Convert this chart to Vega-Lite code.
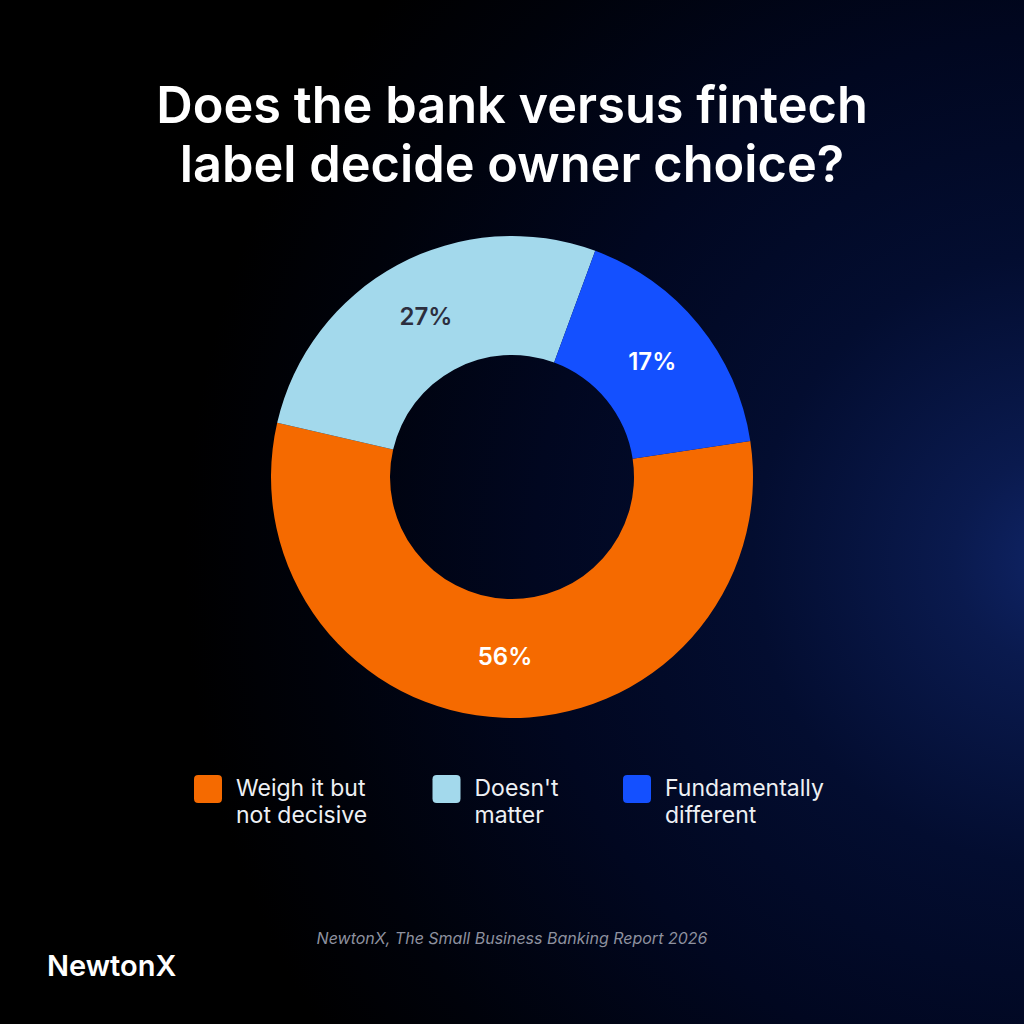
{
  "$schema": "https://vega.github.io/schema/vega-lite/v6.json",
  "width": 1024,
  "height": 1094,
  "autosize": {"type": "none"},
  "padding": {"left": 0, "top": -70, "right": 0, "bottom": 0},
  "background": "#000000",
  "view": {
    "stroke": null,
    "fill": {
      "gradient": "radial",
      "x1": 1.0, "y1": 0.576, "r1": 0,
      "x2": 1.0, "y2": 0.576, "r2": 0.8,
      "stops": [
        {"offset": 0, "color": "#0f2466"},
        {"offset": 0.12, "color": "#0a1a4e"},
        {"offset": 0.35, "color": "#030d30"},
        {"offset": 0.6, "color": "#010720"},
        {"offset": 0.85, "color": "#00020a"},
        {"offset": 1, "color": "#000000"}
      ]
    }
  },
  "title": {
    "text": ["Does the bank versus fintech", "label decide owner choice?"],
    "subtitle": "NewtonX, The Small Business Banking Report 2026",
    "anchor": "middle",
    "frame": "group",
    "orient": "top",
    "font": "Inter",
    "fontSize": 50.5,
    "fontWeight": 600,
    "color": "#ffffff",
    "lineHeight": 59,
    "subtitleFont": "Inter",
    "subtitleFontSize": 16,
    "subtitleFontStyle": "italic",
    "subtitleColor": "#8e919f",
    "subtitlePadding": 739,
    "offset": -1017
  },
  "data": {
    "values": [
      {"category": "Weigh it but not decisive", "value": 0.56},
      {"category": "Doesn't matter", "value": 0.27},
      {"category": "Fundamentally different", "value": 0.17}
    ]
  },
  "encoding": {
    "theta": {
      "field": "value",
      "type": "quantitative",
      "stack": true,
      "scale": {"range": [1.4207, 7.7039]}
    },
    "order": {"field": "value", "sort": "descending"}
  },
  "layer": [
    {
      "mark": {"type": "arc", "innerRadius": 122, "outerRadius": 241, "strokeWidth": 0},
      "encoding": {
        "color": {
          "field": "category",
          "type": "nominal",
          "scale": {
            "domain": ["Weigh it but not decisive", "Doesn't matter", "Fundamentally different"],
            "range": ["#F56A00", "#A3D9EC", "#1450FF"]
          },
          "legend": {
            "orient": "none",
            "legendX": 47,
            "legendY": 845,
            "direction": "horizontal",
            "columns": 3,
            "padding": 0,
            "title": ["\u00a0", "NewtonX"],
            "titleOrient": "left",
            "titleAnchor": "start",
            "titleBaseline": "top",
            "titleFont": "Inter",
            "titleFontSize": 29,
            "titleFontWeight": 600,
            "titleColor": "#ffffff",
            "titleLineHeight": 178,
            "titlePadding": 17,
            "titleLimit": 400,
            "symbolType": "M -0.7 -1 L 0.7 -1 Q 1 -1 1 -0.7 L 1 0.7 Q 1 1 0.7 1 L -0.7 1 Q -1 1 -1 0.7 L -1 -0.7 Q -1 -1 -0.7 -1 Z",
            "symbolSize": 784,
            "symbolStrokeWidth": 0,
            "symbolOpacity": 1,
            "labelFont": "Inter",
            "labelFontSize": 23,
            "labelColor": "#eef0f4",
            "labelOffset": 14,
            "labelLimit": 400,
            "columnPadding": 64.5,
            "labelExpr": "datum.label == 'Weigh it but not decisive' ? ['Weigh it but', 'not decisive'] : split(datum.label, ' ')"
          }
        }
      }
    },
    {
      "mark": {"type": "text", "radius": 181, "font": "Inter", "fontSize": 24, "fontWeight": 600, "align": "center", "baseline": "middle"},
      "encoding": {
        "text": {"field": "value", "type": "quantitative", "format": ".0%"},
        "color": {
          "condition": {"test": "datum.category == \"Doesn't matter\"", "value": "#2c2e3e"},
          "value": "#ffffff"
        }
      }
    }
  ],
  "config": {
    "view": {"stroke": null},
    "style": {"guide-label": {"lineHeight": 27}}
  }
}
